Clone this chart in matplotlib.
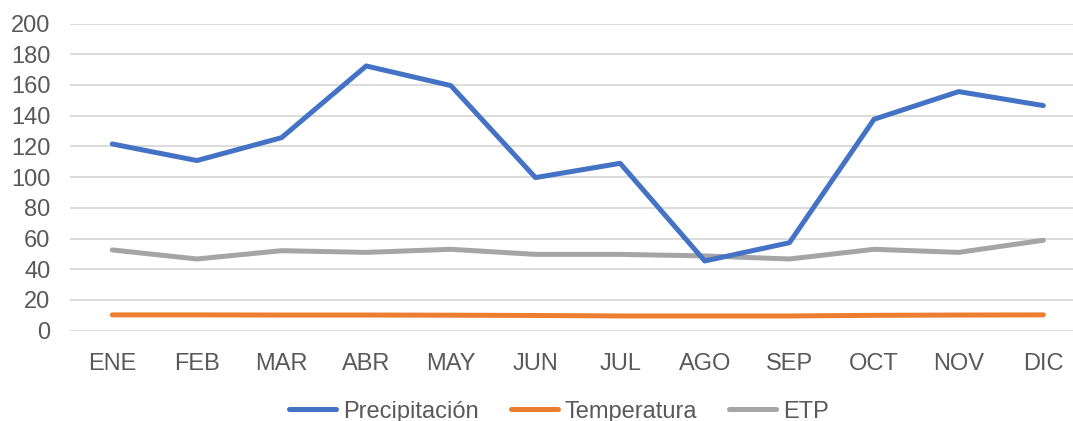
import matplotlib
matplotlib.use("Agg")
import matplotlib.pyplot as plt

meses = ["ENE", "FEB", "MAR", "ABR", "MAY", "JUN", "JUL", "AGO", "SEP", "OCT", "NOV", "DIC"]
precipitacion = [121.6, 110.8, 125.7, 172.4, 159.6, 99.7, 109.0, 45.4, 57.3, 137.7, 155.7, 146.6]
temperatura = [10.3, 10.3, 10.2, 10.2, 10.1, 9.9, 9.6, 9.6, 9.6, 10.0, 10.2, 10.3]
etp = [52.6, 46.7, 52.1, 51.0, 53.0, 49.7, 49.7, 48.7, 46.7, 53.0, 51.0, 58.9]
yticks = list(range(0, 201, 20))

plt.rcParams['font.family'] = ['Liberation Sans', 'DejaVu Sans']

fig = plt.figure(figsize=(10.73, 4.21), dpi=100)
ax = fig.add_axes([0.0652, 0.2145, 0.9466, 0.7295])

x = list(range(len(meses)))
ax.plot(x, precipitacion, color="#4472C4", lw=3.6, label="Precipitación", solid_capstyle="round", solid_joinstyle="round", zorder=3)
ax.plot(x, temperatura, color="#ED7D31", lw=3.6, label="Temperatura", solid_capstyle="round", solid_joinstyle="round", zorder=3)
ax.plot(x, etp, color="#A5A5A5", lw=3.6, label="ETP", solid_capstyle="round", solid_joinstyle="round", zorder=2)

ax.set_xlim(-0.5, len(meses) - 0.5)
ax.set_ylim(0, 200)
ax.set_yticks(yticks)
ax.set_xticks(x)
ax.set_xticklabels(meses)
ax.grid(axis="y", color="#D9D9D9", lw=1.3)
ax.set_axisbelow(True)
for s in ax.spines.values():
    s.set_visible(False)
ax.tick_params(axis="both", length=0, labelsize=17, labelcolor="#595959")
ax.tick_params(axis="y", pad=14)
ax.tick_params(axis="x", pad=16)

fig.legend(loc="center", bbox_to_anchor=(0.521, 0.022), ncol=3, frameon=False,
           fontsize=17, handlelength=2.0, handletextpad=0.3, columnspacing=1.35,
           labelcolor="#595959")

fig.savefig("out.png", dpi=100)
